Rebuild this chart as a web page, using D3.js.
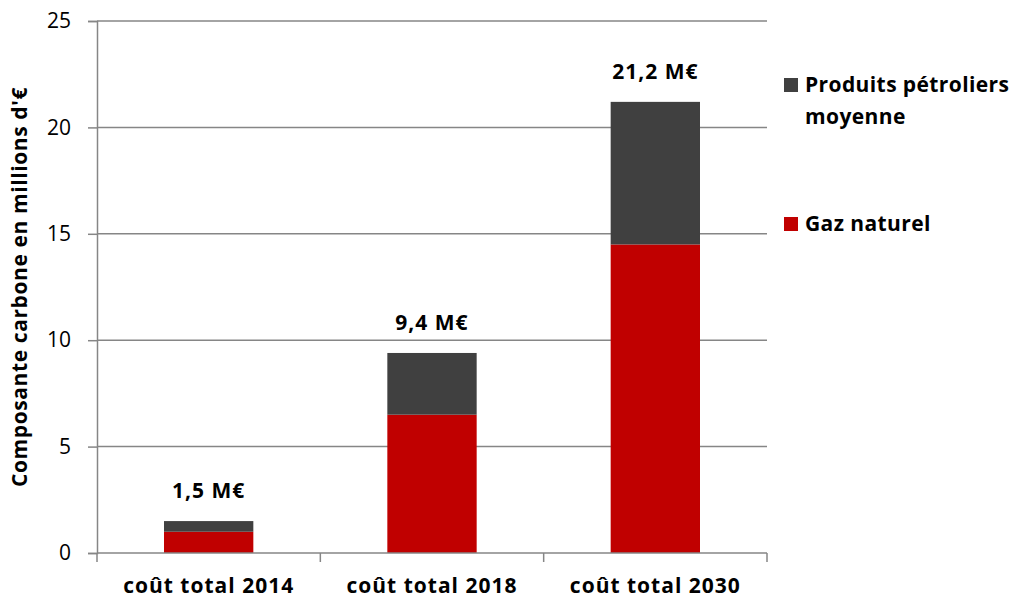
<!DOCTYPE html>
<meta charset="utf-8">
<style>
body { margin: 0; background: #fff; }
text { font-family: "Open Sans", Lato, sans-serif; fill: #000; }
</style>
<body>
<script src="https://d3js.org/d3.v7.min.js"></script>
<script>

// data
var categories = ["coût total 2014", "coût total 2018", "coût total 2030"];
var gazNaturel = [1.0, 6.5, 14.5];
var produitsPetroliers = [0.5, 2.9, 6.7];
var totalLabels = ["1,5 M€", "9,4 M€", "21,2 M€"];
var yTicks = [0, 5, 10, 15, 20, 25];

var width = 1014, height = 598;
var margin = {top: 21, right: 247, bottom: 45, left: 97};

var svg = d3.select("body").append("svg")
    .attr("width", width)
    .attr("height", height);

var x = d3.scaleBand()
    .domain(categories)
    .range([margin.left, width - margin.right])
    .paddingInner(0.6)
    .paddingOuter(0.3);

var y = d3.scaleLinear()
    .domain([0, 25])
    .range([height - margin.bottom, margin.top]);

// gridlines
svg.append("g")
  .selectAll("line")
  .data(yTicks.slice(1))
  .join("line")
    .attr("x1", margin.left)
    .attr("x2", width - margin.right)
    .attr("y1", function(d) { return y(d); })
    .attr("y2", function(d) { return y(d); })
    .attr("stroke", "#868686")
    .attr("stroke-width", 1.5);

// stacked bars
var rows = categories.map(function(c, i) {
  return {cat: c, gaz: gazNaturel[i], petro: produitsPetroliers[i]};
});
var stack = d3.stack().keys(["gaz", "petro"])(rows);
var colors = {gaz: "#c00000", petro: "#404040"};

svg.append("g")
  .selectAll("g")
  .data(stack)
  .join("g")
    .attr("fill", function(d) { return colors[d.key]; })
  .selectAll("rect")
  .data(function(d) { return d; })
  .join("rect")
    .attr("x", function(d) { return x(d.data.cat); })
    .attr("width", x.bandwidth())
    .attr("y", function(d) { return y(d[1]); })
    .attr("height", function(d) { return y(d[0]) - y(d[1]); });

// total labels
svg.append("g")
  .selectAll("text")
  .data(rows)
  .join("text")
    .attr("x", function(d) { return x(d.cat) + x.bandwidth() / 2; })
    .attr("y", function(d) { return y(d.gaz + d.petro) - 23; })
    .attr("text-anchor", "middle")
    .style("font-size", "21px")
    .style("font-weight", "bold")
    .style("letter-spacing", "1px")
    .text(function(d, i) { return totalLabels[i]; });

// y axis
var yAxis = svg.append("g")
    .attr("transform", "translate(" + margin.left + ",0)")
    .call(d3.axisLeft(y).tickValues(yTicks).tickSize(9).tickPadding(17));
yAxis.select(".domain").attr("stroke", "#868686").attr("stroke-width", 1.5);
yAxis.selectAll(".tick line").attr("stroke", "#868686").attr("stroke-width", 1.5);
yAxis.selectAll(".tick text").style("font-size", "21px").attr("fill", "#000");

// x axis
var xEdge = d3.scaleLinear().domain([0, categories.length])
    .range([margin.left, width - margin.right]);
var xAxis = svg.append("g")
    .attr("transform", "translate(0," + y(0) + ")");
xAxis.append("line")
    .attr("x1", margin.left).attr("x2", width - margin.right)
    .attr("stroke", "#868686").attr("stroke-width", 1.5);
xAxis.selectAll(".edge")
  .data(d3.range(categories.length + 1))
  .join("line")
    .attr("class", "edge")
    .attr("x1", function(d) { return xEdge(d); })
    .attr("x2", function(d) { return xEdge(d); })
    .attr("y1", 0).attr("y2", 9)
    .attr("stroke", "#868686").attr("stroke-width", 1.5);
xAxis.selectAll(".cat")
  .data(categories)
  .join("text")
    .attr("class", "cat")
    .attr("x", function(d) { return x(d) + x.bandwidth() / 2; })
    .attr("y", 40)
    .attr("text-anchor", "middle")
    .style("font-size", "21px")
    .style("font-weight", "bold")
    .style("letter-spacing", "1px")
    .text(function(d) { return d; });

// y title
svg.append("text")
    .attr("transform", "translate(27," + ((y(0) + y(25)) / 2) + ") rotate(-90)")
    .attr("text-anchor", "middle")
    .style("font-size", "21px")
    .style("font-weight", "bold")
    .style("letter-spacing", "0.6px")
    .text("Composante carbone en millions d'€");

// legend
var legend = svg.append("g");
var legendItems = [
  {lines: ["Produits pétroliers", "moyenne"], color: colors.petro, y: 85},
  {lines: ["Gaz naturel"], color: colors.gaz, y: 224}
];
legendItems.forEach(function(it) {
  legend.append("rect")
      .attr("x", 784).attr("y", it.y - 7)
      .attr("width", 14).attr("height", 14)
      .attr("fill", it.color);
  var t = legend.append("text")
      .attr("x", 805).attr("y", it.y + 7)
      .style("font-size", "21px")
      .style("font-weight", "bold")
      .style("letter-spacing", "0.4px");
  it.lines.forEach(function(l, i) {
    t.append("tspan").attr("x", 805).attr("dy", i ? 32 : 0).text(l);
  });
});

</script>
</body>
